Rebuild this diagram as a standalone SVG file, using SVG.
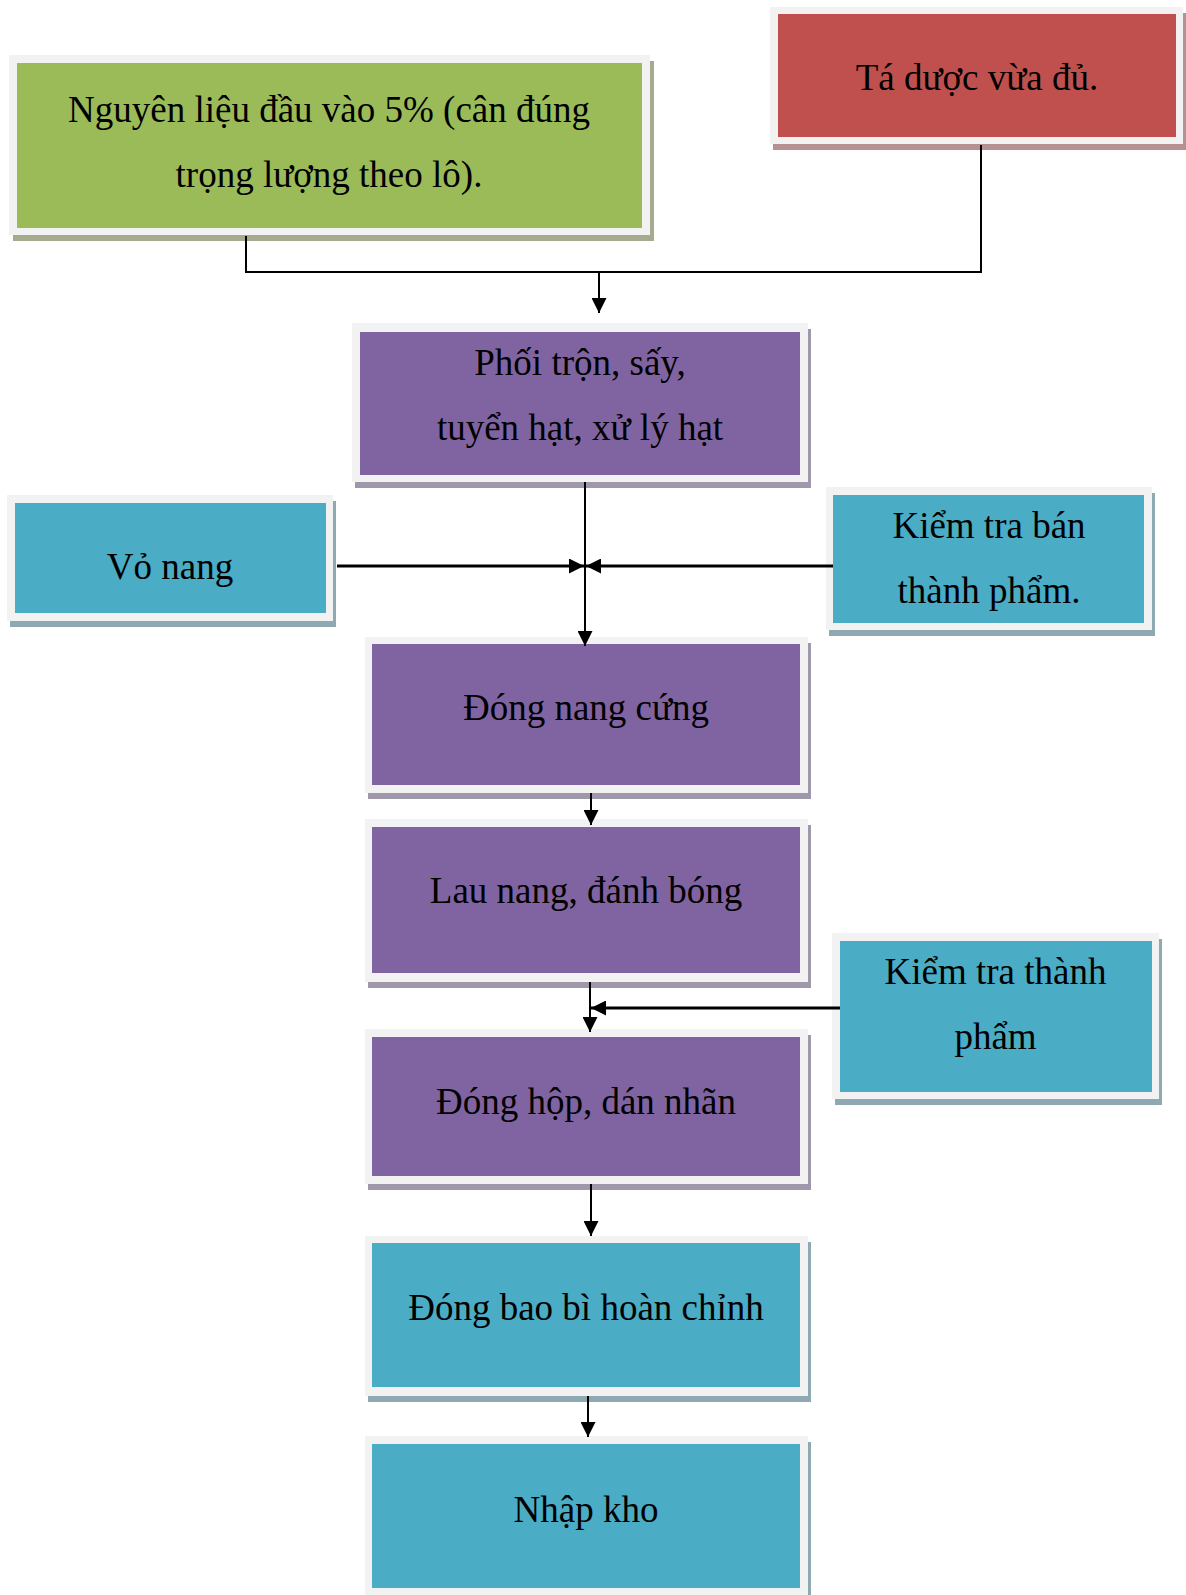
<svg xmlns="http://www.w3.org/2000/svg" width="1186" height="1595" viewBox="0 0 1186 1595">
<defs>
<style>
.bd{fill:#f2f2f2}
.g{fill:#9bbb59}.gs{fill:#a6aa8f}
.r{fill:#c0504d}.rs{fill:#b69191}
.p{fill:#8064a2}.ps{fill:#9f97aa}
.c{fill:#4bacc6}.cs{fill:#8ea9b1}
text{font-family:"Liberation Serif","Times New Roman",serif;font-size:37px;fill:#000;text-anchor:middle}
.ln{stroke:#000;stroke-width:2;fill:none}
.lw{stroke-width:2.8}
</style>
<marker id="ah" markerUnits="userSpaceOnUse" markerWidth="15" markerHeight="15" refX="15" refY="7.5" orient="auto">
<path d="M0,0 L15,7.5 L0,15 z" fill="#000"/>
</marker>
</defs>
<rect width="1186" height="1595" fill="#fff"/>

<g id="n-nguyenlieu">
<rect class="gs" x="13" y="61" width="641" height="180"/>
<rect class="bd" x="9" y="55" width="641" height="180"/>
<rect class="g" x="17" y="63" width="625" height="165"/>
<text x="329" y="122">Nguyên liệu đầu vào 5% (cân đúng</text>
<text x="329" y="187">trọng lượng theo lô).</text>
</g>

<g id="n-taduoc">
<rect class="rs" x="773" y="13" width="413" height="137"/>
<rect class="bd" x="770" y="7" width="413" height="137"/>
<rect class="r" x="778" y="14" width="398" height="123"/>
<text x="977" y="90">Tá dược vừa đủ.</text>
</g>

<g id="n-phoitron">
<rect class="ps" x="355" y="329" width="456" height="159"/>
<rect class="bd" x="352" y="323" width="456" height="159"/>
<rect class="p" x="360" y="332" width="440" height="143"/>
<text x="580" y="375">Phối trộn, sấy,</text>
<text x="580" y="440">tuyển hạt, xử lý hạt</text>
</g>

<g id="n-vonang">
<rect class="cs" x="10" y="501" width="326" height="126"/>
<rect class="bd" x="7" y="495" width="326" height="126"/>
<rect class="c" x="15" y="503" width="311" height="110"/>
<text x="170" y="579">Vỏ nang</text>
</g>

<g id="n-kiemtraban">
<rect class="cs" x="829" y="493" width="326" height="143"/>
<rect class="bd" x="826" y="487" width="326" height="143"/>
<rect class="c" x="833" y="495" width="311" height="128"/>
<text x="989" y="538">Kiểm tra bán</text>
<text x="989" y="603">thành phẩm.</text>
</g>

<g id="n-dongnang">
<rect class="ps" x="368" y="643" width="443" height="156"/>
<rect class="bd" x="365" y="637" width="443" height="156"/>
<rect class="p" x="372" y="644" width="428" height="141"/>
<text x="586" y="720">Đóng nang cứng</text>
</g>

<g id="n-launang">
<rect class="ps" x="368" y="825" width="443" height="163"/>
<rect class="bd" x="365" y="819" width="443" height="163"/>
<rect class="p" x="372" y="827" width="428" height="146"/>
<text x="586" y="903">Lau nang, đánh bóng</text>
</g>

<g id="n-kiemtrathanh">
<rect class="cs" x="835" y="939" width="327" height="166"/>
<rect class="bd" x="832" y="933" width="327" height="166"/>
<rect class="c" x="840" y="941" width="312" height="151"/>
<text x="995.5" y="984">Kiểm tra thành</text>
<text x="995.5" y="1049">phẩm</text>
</g>

<g id="n-donghop">
<rect class="ps" x="368" y="1035" width="443" height="155"/>
<rect class="bd" x="365" y="1029" width="443" height="155"/>
<rect class="p" x="372" y="1037" width="428" height="139"/>
<text x="586" y="1114">Đóng hộp, dán nhãn</text>
</g>

<g id="n-dongbaobi">
<rect class="cs" x="368" y="1242" width="443" height="160"/>
<rect class="bd" x="365" y="1236" width="443" height="160"/>
<rect class="c" x="372" y="1243" width="428" height="144"/>
<text x="586" y="1320">Đóng bao bì hoàn chỉnh</text>
</g>

<g id="n-nhapkho">
<rect class="cs" x="368" y="1442" width="443" height="170"/>
<rect class="bd" x="365" y="1436" width="443" height="170"/>
<rect class="c" x="372" y="1444" width="428" height="144"/>
<text x="586" y="1522">Nhập kho</text>
</g>

<g id="connectors">
<polyline class="ln" points="246,236 246,272 981,272 981,145"/>
<line class="ln" x1="599" y1="272" x2="599" y2="313" marker-end="url(#ah)"/>
<line class="ln" x1="585" y1="482" x2="585" y2="646" marker-end="url(#ah)"/>
<line class="ln lw" x1="337" y1="566" x2="584" y2="566" marker-end="url(#ah)"/>
<line class="ln lw" x1="833" y1="566" x2="586" y2="566" marker-end="url(#ah)"/>
<line class="ln" x1="591" y1="793" x2="591" y2="825" marker-end="url(#ah)"/>
<line class="ln" x1="590" y1="982" x2="590" y2="1032" marker-end="url(#ah)"/>
<line class="ln lw" x1="840" y1="1008" x2="591" y2="1008" marker-end="url(#ah)"/>
<line class="ln" x1="591" y1="1184" x2="591" y2="1236" marker-end="url(#ah)"/>
<line class="ln" x1="588" y1="1396" x2="588" y2="1437" marker-end="url(#ah)"/>
</g>
</svg>
